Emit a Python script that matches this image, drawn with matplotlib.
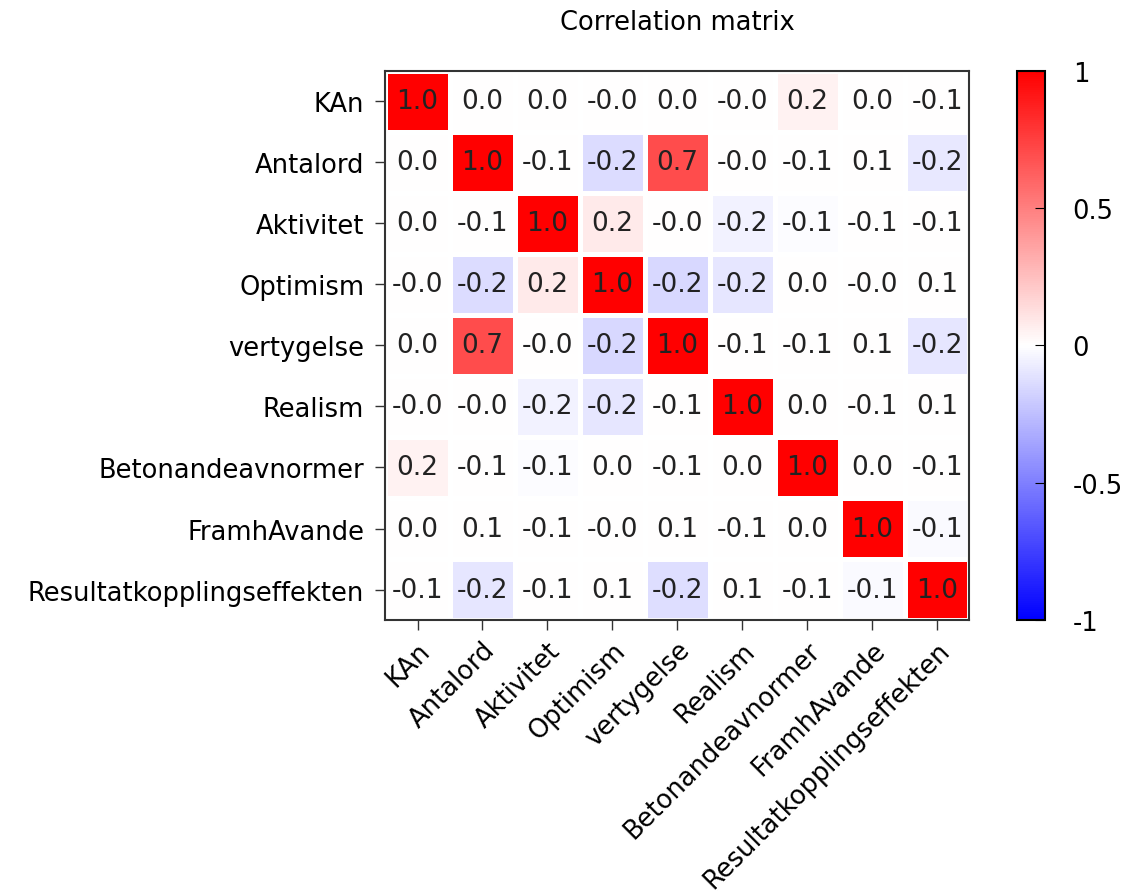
import matplotlib.pyplot as plt
import numpy as np

plt.rcParams['font.family'] = ['DejaVu Sans']

variables = ['KAn', 'Antalord', 'Aktivitet', 'Optimism', 'vertygelse',
             'Realism', 'Betonandeavnormer', 'FramhAvande',
             'Resultatkopplingseffekten']

# shading of each cell
shade = np.array([
    [1.00, 0.00, 0.00, 0.00, 0.00, 0.00, 0.05, 0.00, 0.00],
    [0.00, 1.00, 0.00, -0.14, 0.70, 0.00, 0.00, 0.00, -0.09],
    [0.00, 0.00, 1.00, 0.08, 0.00, -0.05, -0.01, 0.00, 0.00],
    [0.00, -0.14, 0.08, 1.00, -0.15, -0.10, 0.00, 0.00, 0.00],
    [0.00, 0.70, 0.00, -0.15, 1.00, 0.00, 0.00, 0.00, -0.10],
    [0.00, 0.00, -0.05, -0.10, 0.00, 1.00, 0.00, 0.00, 0.00],
    [0.05, 0.00, -0.01, 0.00, 0.00, 0.00, 1.00, 0.00, 0.00],
    [0.00, 0.00, 0.00, 0.00, 0.00, 0.00, 0.00, 1.00, -0.02],
    [0.00, -0.10, 0.00, 0.00, -0.13, 0.00, 0.00, -0.02, 1.00],
])

# numbers written in the cells
labels = [
    ['1.0', '0.0', '0.0', '-0.0', '0.0', '-0.0', '0.2', '0.0', '-0.1'],
    ['0.0', '1.0', '-0.1', '-0.2', '0.7', '-0.0', '-0.1', '0.1', '-0.2'],
    ['0.0', '-0.1', '1.0', '0.2', '-0.0', '-0.2', '-0.1', '-0.1', '-0.1'],
    ['-0.0', '-0.2', '0.2', '1.0', '-0.2', '-0.2', '0.0', '-0.0', '0.1'],
    ['0.0', '0.7', '-0.0', '-0.2', '1.0', '-0.1', '-0.1', '0.1', '-0.2'],
    ['-0.0', '-0.0', '-0.2', '-0.2', '-0.1', '1.0', '0.0', '-0.1', '0.1'],
    ['0.2', '-0.1', '-0.1', '0.0', '-0.1', '0.0', '1.0', '0.0', '-0.1'],
    ['0.0', '0.1', '-0.1', '-0.0', '0.1', '-0.1', '0.0', '1.0', '-0.1'],
    ['-0.1', '-0.2', '-0.1', '0.1', '-0.2', '0.1', '-0.1', '-0.1', '1.0'],
]

fs = 18.5

fig = plt.figure(figsize=(11.26, 8.95), dpi=100)
ax = fig.add_axes([0.342, 0.306, 0.519, 0.614])
cax = fig.add_axes([0.903, 0.306, 0.025, 0.614])

n = len(variables)
mesh = ax.pcolormesh(np.arange(n + 1) - 0.5, np.arange(n + 1) - 0.5, shade,
                     cmap='bwr', vmin=-1, vmax=1,
                     edgecolors='white', linewidth=2.5)
ax.set_xlim(-0.5, n - 0.5)
ax.set_ylim(n - 0.5, -0.5)

for i in range(n):
    for j in range(n):
        ax.text(j, i, labels[i][j], ha='center', va='center',
                fontsize=fs + 0.5, color='#222222')

ax.set_xticks(np.arange(n))
ax.set_yticks(np.arange(n))
ax.set_xticklabels(variables, rotation=45, ha='right',
                   rotation_mode='anchor', fontsize=fs)
ax.set_yticklabels(variables, fontsize=fs)
ax.tick_params(length=7, width=1, color='#333333')
ax.tick_params(axis='y', pad=8)
ax.tick_params(axis='x', pad=5)
for s in ax.spines.values():
    s.set_linewidth(1.5)
    s.set_color('#333333')
ax.set_title('Correlation matrix', fontsize=fs, pad=30)

cb = fig.colorbar(mesh, cax=cax, ticks=[-1, -0.5, 0, 0.5, 1])
cb.ax.set_yticklabels(['-1', '-0.5', '0', '0.5', '1'])
cb.ax.tick_params(direction='in', length=7, labelsize=fs, pad=20)
cb.outline.set_linewidth(1.5)

fig.savefig('out.png', dpi=100, facecolor='white')
